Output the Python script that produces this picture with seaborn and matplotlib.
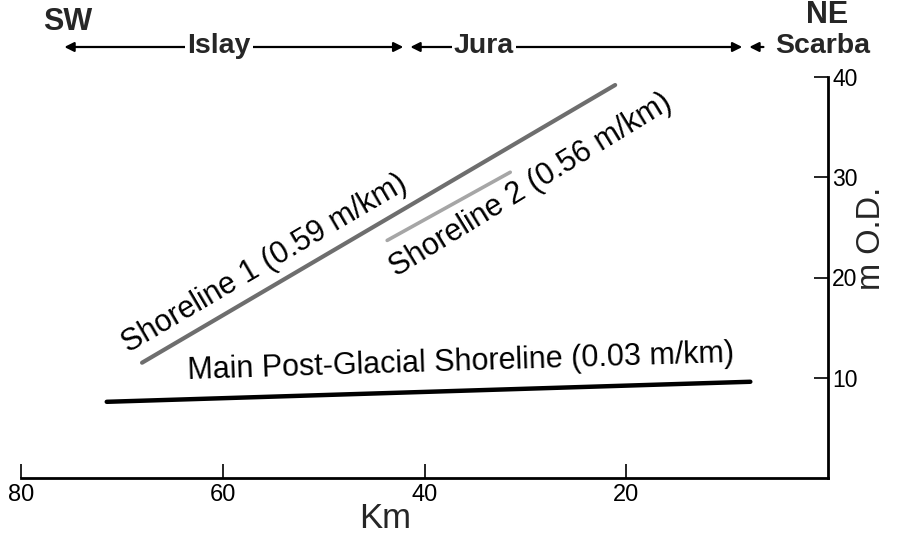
import matplotlib
matplotlib.use("Agg")
import matplotlib.pyplot as plt
import matplotlib.transforms as mtransforms
import seaborn as sns
import pandas as pd

# ---- data ----
series = ["Shoreline 1", "Shoreline 2", "Main Post-Glacial Shoreline"]
gradients = ["0.59", "0.56", "0.03"]
km_start = [68.0, 43.7, 71.5]
km_end = [21.1, 31.5, 7.7]
od_start = [11.5, 23.7, 7.6]
od_end = [39.2, 30.5, 9.6]

x_ticks = [80, 60, 40, 20]
y_ticks = [10, 20, 30, 40]

regions = ["Islay", "Jura", "Scarba"]
region_from = [75.7, 41.4, 6.4]
region_to = [42.1, 8.5, 7.8]
region_label_x = [60.4, 34.1, 0.5]

sns.set_theme(style="white")
plt.rcParams["font.family"] = ["Liberation Sans", "DejaVu Sans"]

rows = []
for s, x0, x1, y0, y1 in zip(series, km_start, km_end, od_start, od_end):
    rows.append({"series": s, "km": x0, "od": y0})
    rows.append({"series": s, "km": x1, "od": y1})
df = pd.DataFrame(rows)

colors = {"Shoreline 1": "#6e6e6e", "Shoreline 2": "#a6a6a6",
          "Main Post-Glacial Shoreline": "#000000"}
widths = {"Shoreline 1": 3.0, "Shoreline 2": 2.6, "Main Post-Glacial Shoreline": 3.2}

fig = plt.figure(figsize=(8.98, 5.35), dpi=100)
ax = fig.add_axes([21 / 898, 1 - 478 / 535, (828 - 21) / 898, (478 - 77) / 535])

for s in series:
    sns.lineplot(data=df[df["series"] == s], x="km", y="od", color=colors[s],
                 linewidth=widths[s], ax=ax, legend=False, sort=False)

ax.set_xlim(80, 0)
ax.set_ylim(0, 40)
ax.set_xticks(x_ticks)
ax.set_yticks(y_ticks)
ax.yaxis.tick_right()
for sp in ["left", "top"]:
    ax.spines[sp].set_visible(False)
for sp in ["bottom", "right"]:
    ax.spines[sp].set_visible(True)
    ax.spines[sp].set_color("black")
    ax.spines[sp].set_linewidth(2.0)
ax.tick_params(axis="x", direction="in", length=10, width=1.2, pad=4,
               labelsize=17, colors="black", bottom=True)
ax.tick_params(axis="y", direction="in", length=10, width=1.2, pad=3,
               labelsize=16.5, colors="black", right=True, left=False)
ax.set_xlabel("")
ax.set_ylabel("")
ax.grid(False)

# line labels
label_pos = [(55.8, 21.4, 30.4), (29.5, 29.2, 31.5), (36.4, 11.5, 1.8)]
for s, g, (lx, ly, rot) in zip(series, gradients, label_pos):
    ax.text(lx, ly, f"{s} ({g} m/km)", fontsize=22, rotation=rot,
            rotation_mode="anchor", ha="center", va="center", color="black")

# axis titles
fig.text(385 / 898, 1 - 528 / 535, "Km", fontsize=25, ha="center", va="baseline")
fig.text(872 / 898, 1 - 238 / 535, "m O.D.", fontsize=23.5, rotation=90,
         ha="center", va="center")

# regions across the top
trans = mtransforms.blended_transform_factory(ax.transData, fig.transFigure)
arrow_y = 1 - 47 / 535
for r, a, b, lx in zip(regions, region_from, region_to, region_label_x):
    style = "-|>" if r == "Scarba" else "<|-|>"
    ax.annotate("", xy=(b, arrow_y), xytext=(a, arrow_y), xycoords=trans,
                textcoords=trans,
                arrowprops=dict(arrowstyle=style, lw=1.6, color="black",
                                mutation_scale=14, shrinkA=0, shrinkB=0),
                annotation_clip=False)
    ax.text(lx, 1 - 53 / 535, r, transform=trans, fontsize=20.5,
            fontweight="bold", ha="center", va="baseline", clip_on=False,
            bbox=dict(boxstyle="square,pad=0.08", fc="white", ec="none"))

ax.text(75.4, 1 - 30 / 535, "SW", transform=trans, fontsize=22,
        fontweight="bold", ha="center", va="baseline", clip_on=False)
ax.text(0.1, 1 - 23 / 535, "NE", transform=trans, fontsize=22,
        fontweight="bold", ha="center", va="baseline", clip_on=False)

fig.savefig("out.png", dpi=100, facecolor="white")
